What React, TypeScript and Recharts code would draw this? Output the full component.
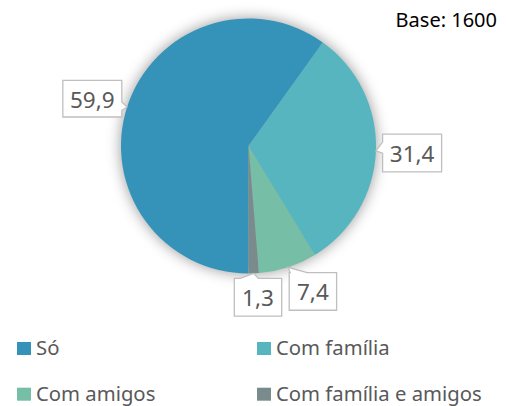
import { PieChart, Pie, Cell, Legend } from 'recharts';

const categories = ['Só', 'Com família', 'Com amigos', 'Com família e amigos'];
const shares = [59.9, 31.4, 7.4, 1.3];
const colors = ['#3593BA', '#57B5BF', '#76BEA5', '#7A8B8E'];
const baseLabel = 'Base: 1600';

const data = categories.map((name, i) => ({ name, value: shares[i] }));

const RADIAN = Math.PI / 180;
const FONT = '"Noto Sans", sans-serif';

// callout box placement relative to the tip on the slice edge
const callouts = [
  { side: 'right', dx: -64.3, dy: -26.7, w: 59, h: 36.7, b1: 21.7, b2: 30 },
  { side: 'left', dx: 6.7, dy: -16.7, w: 59, h: 37.7, b1: 8, b2: 19 },
  { side: 'top', dx: 1.3, dy: 5.3, w: 47.4, h: 37.7, b1: 1, b2: 18 },
  { side: 'top', dx: -19.4, dy: 5, w: 47.4, h: 37.7, b1: 6, b2: 24 },
];

function calloutPath(x0: number, y0: number, w: number, h: number, tx: number, ty: number, side: string, b1: number, b2: number) {
  if (side === 'right') {
    return `M${x0},${y0} H${x0 + w} V${y0 + b1} L${tx},${ty} L${x0 + w},${y0 + b2} V${y0 + h} H${x0} Z`;
  }
  if (side === 'left') {
    return `M${x0},${y0} H${x0 + w} V${y0 + h} H${x0} V${y0 + b2} L${tx},${ty} L${x0},${y0 + b1} Z`;
  }
  return `M${x0},${y0} H${x0 + b1} L${tx},${ty} L${x0 + b2},${y0} H${x0 + w} V${y0 + h} H${x0} Z`;
}

function renderCallout(props: any) {
  const { cx, cy, midAngle, outerRadius, index, value } = props;
  const tx = cx + outerRadius * Math.cos(-midAngle * RADIAN);
  const ty = cy + outerRadius * Math.sin(-midAngle * RADIAN);
  const c = callouts[index];
  const x0 = tx + c.dx;
  const y0 = ty + c.dy;
  return (
    <g key={`callout-${index}`}>
      <path
        d={calloutPath(x0, y0, c.w, c.h, tx, ty, c.side, c.b1, c.b2)}
        fill="#fff"
        stroke="#BFBFBF"
        strokeWidth={1.3}
      />
      <text
        x={x0 + c.w / 2}
        y={y0 + c.h / 2 + 9}
        textAnchor="middle"
        fontFamily={FONT}
        fontSize={22.5}
        fill="#595959"
      >
        {Number(value).toFixed(1).replace('.', ',')}
      </text>
    </g>
  );
}

function renderLegend() {
  return (
    <svg width={506} height={76} style={{ display: 'block' }}>
      {categories.map((name, i) => {
        const x = i % 2 === 0 ? 17 : 257;
        const base = i < 2 ? 25 : 70.7;
        return (
          <g key={name}>
            <rect x={x} y={base - 13} width={14} height={13} fill={colors[i]} />
            <text x={x + 19} y={base} fontFamily={FONT} fontSize={20.3} fill="#595959">
              {name}
            </text>
          </g>
        );
      })}
    </svg>
  );
}

export default function App() {
  return (
    <div style={{ position: 'absolute', left: 0, top: 0, background: '#fff' }}>
      <PieChart width={506} height={406} margin={{ top: 0, right: 0, bottom: 0, left: 0 }}>
        {/* soft shadow behind the pie */}
        <Pie
          data={data}
          dataKey="value"
          cx={248.5}
          cy={146}
          outerRadius={128}
          startAngle={-90}
          endAngle={-450}
          stroke="none"
          isAnimationActive={false}
          legendType="none"
        >
          {data.map((d) => (
            <Cell key={d.name} fill="rgba(0,0,0,0.38)" style={{ filter: 'blur(7px)' }} />
          ))}
        </Pie>
        <Pie
          data={data}
          dataKey="value"
          cx={248.5}
          cy={146}
          outerRadius={127.5}
          startAngle={-90}
          endAngle={-450}
          stroke="none"
          label={renderCallout}
          labelLine={false}
          isAnimationActive={false}
        >
          {data.map((d, i) => (
            <Cell key={d.name} fill={colors[i]} />
          ))}
        </Pie>
        <text x={497} y={26.5} textAnchor="end" fontFamily={FONT} fontSize={20} fill="#000">
          {baseLabel}
        </text>
        <Legend content={renderLegend} wrapperStyle={{ top: 330, left: 0, width: 506, height: 76 }} />
      </PieChart>
    </div>
  );
}
